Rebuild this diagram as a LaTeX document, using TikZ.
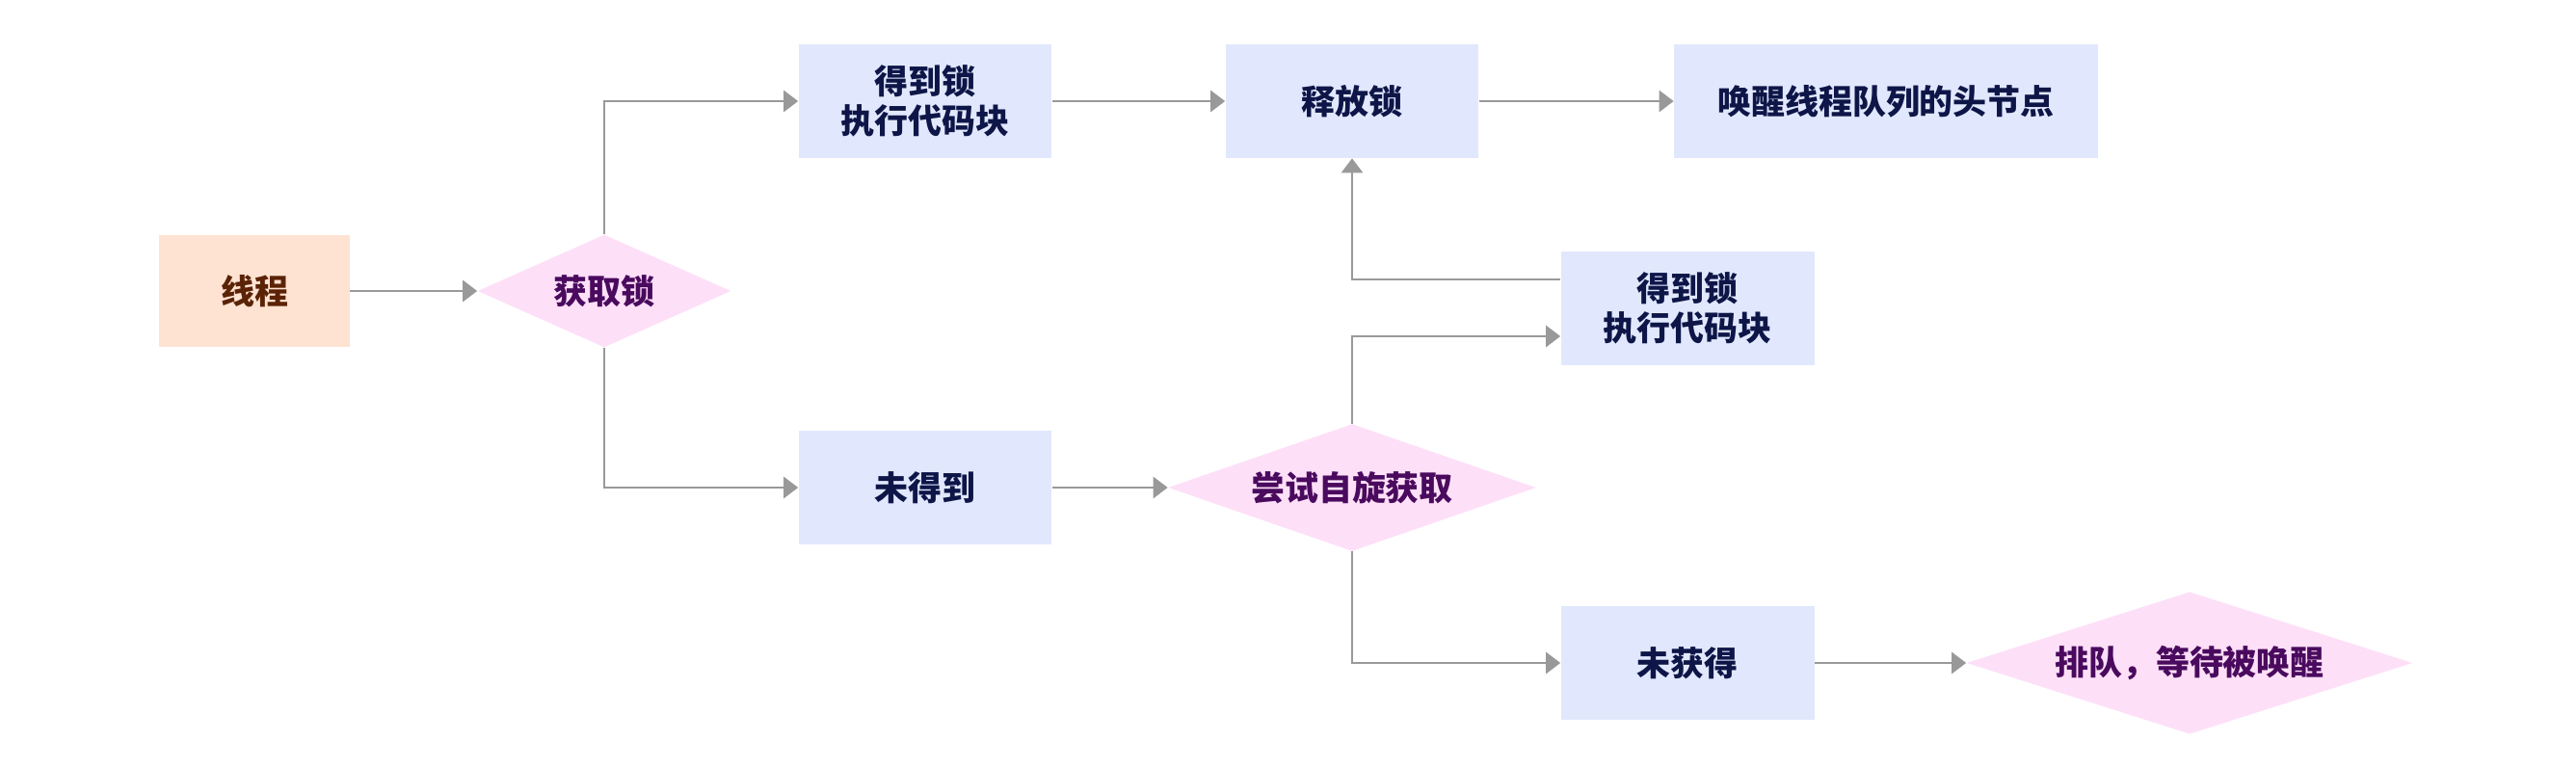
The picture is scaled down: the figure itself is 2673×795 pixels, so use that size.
\documentclass[tikz,border=0pt]{standalone}
\usepackage{fontspec}
\newfontfamily\cjk{Noto Sans CJK SC}[BoldFont={Noto Sans CJK SC Black}]
\usepackage{xcolor}
\usetikzlibrary{positioning, arrows.meta, shapes.geometric}

\definecolor{boxfill}{HTML}{E1E8FD}
\definecolor{boxtext}{HTML}{0E1648}
\definecolor{condfill}{HTML}{FDE0F8}
\definecolor{condtext}{HTML}{4A0A5E}
\definecolor{startfill}{HTML}{FFE3D2}
\definecolor{starttext}{HTML}{5A2306}
\definecolor{flowgray}{HTML}{999999}

\begin{document}
\begin{tikzpicture}[x=0.02cm, y=-0.02cm,
  every node/.style={font=\cjk\bfseries\fontsize{19.9pt}{23.5pt}\selectfont, align=center},
  start/.style={rectangle, fill=startfill, text=starttext, minimum width=3.96cm, minimum height=2.34cm},
  proc/.style={rectangle, fill=boxfill, text=boxtext, minimum width=5.26cm, minimum height=2.36cm},
  cond/.style={diamond, fill=condfill, text=condtext, inner sep=0pt, shape aspect=2.5},
  flow/.style={draw=flowgray, line width=1.6pt, -{Triangle[length=0.3cm, width=0.44cm]}}]
  \useasboundingbox (0,0) rectangle (2673,795);

  \node (thread) [start] at (264,302) {线程};
  \node (lock) [cond, minimum width=5.26cm, minimum height=2.34cm] at (627,302) {获取锁};
  \node (got1) [proc] at (960,105) {得到锁\\执行代码块};
  \node (release) [proc] at (1403,105) {释放锁};
  \node (wake) [proc, minimum width=8.8cm] at (1957,105) {唤醒线程队列的头节点};
  \node (miss) [proc] at (960,506) {未得到};
  \node (spin) [cond, minimum width=7.64cm, minimum height=2.64cm] at (1403,506) {尝试自旋获取};
  \node (got2) [proc] at (1751,320) {得到锁\\执行代码块};
  \node (fail) [proc] at (1751,688) {未获得};
  \node (queue) [cond, minimum width=9.26cm, minimum height=2.86cm] at (2272,688) {排队，等待被唤醒};

  \draw[flow] (thread) -- (lock);
  \draw[flow] (lock.north) |- (got1);
  \draw[flow] (lock.south) |- (miss);
  \draw[flow] (got1) -- (release);
  \draw[flow] (release) -- (wake);
  \draw[flow] (miss) -- (spin);
  \draw[flow] (spin.north) |- ([yshift=-0.58cm]got2.west);
  \draw[flow] ([yshift=0.6cm]got2.west) -| (release.south);
  \draw[flow] (spin.south) |- (fail);
  \draw[flow] (fail) -- (queue);
\end{tikzpicture}
\end{document}
